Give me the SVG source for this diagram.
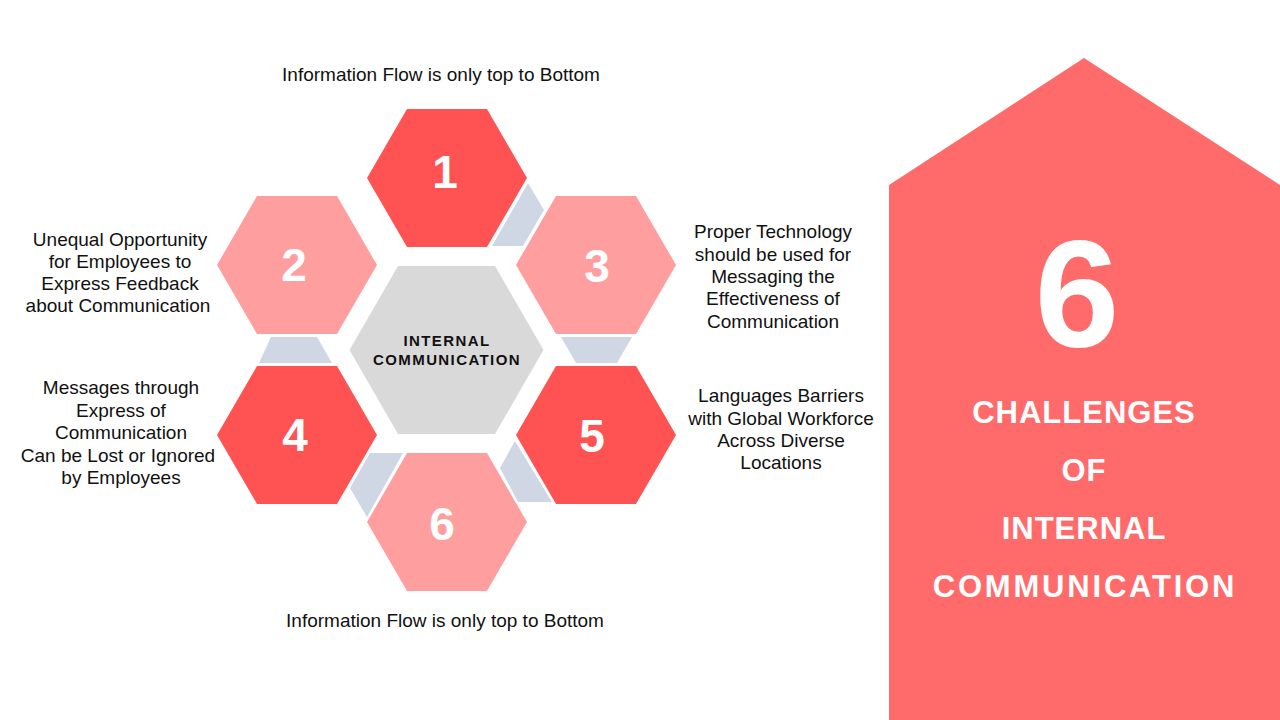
<svg xmlns="http://www.w3.org/2000/svg" width="1280" height="720" viewBox="0 0 1280 720">
<style>
.dark{fill:#FF5252}
.light{fill:#FF9E9E}
.core{fill:#D9D9D9}
.link{fill:#CFD6E4}
.num{font-family:"Liberation Sans",Arial,sans-serif;font-weight:bold;font-size:46px;fill:#FFFFFF;text-anchor:middle}
.lbl{font-family:"Liberation Sans",Arial,sans-serif;font-size:19px;fill:#111111;text-anchor:middle}
.core-t{font-family:"Liberation Sans",Arial,sans-serif;font-weight:bold;font-size:15px;fill:#111111;text-anchor:middle;letter-spacing:1.4px}
.title{font-family:"Liberation Sans",Arial,sans-serif;font-weight:bold;font-size:31px;fill:#FFFFFF;text-anchor:middle;letter-spacing:1px}
</style>
<rect width="1280" height="720" fill="#FFFFFF"/>
<g id="connectors">
<polygon class="link" points="528,183 544,210 523,246 492,246"/>
<polygon class="link" points="271,337 317,337 332,363 259,363"/>
<polygon class="link" points="561,337 632,337 617,363 576,363"/>
<polygon class="link" points="515,441 552,502 518,502 500,468"/>
<polygon class="link" points="370,453 403,453 367,517 350,488"/>
</g>
<g id="node-center">
<polygon class="core" points="349.5,350 398,266 495,266 543.5,350 495,434 398,434"/>
<text class="core-t" x="447" y="346">INTERNAL</text>
<text class="core-t" x="447" y="365">COMMUNICATION</text>
</g>
<g id="node-1">
<polygon class="dark" points="367,178 407,109 487,109 527,178 487,247 407,247"/>
<text class="num" x="445" y="188">1</text>
</g>
<g id="node-2">
<polygon class="light" points="217,265 257,196 337,196 377,265 337,334 257,334"/>
<text class="num" x="294" y="281">2</text>
</g>
<g id="node-3">
<polygon class="light" points="516,265 556,196 636,196 676,265 636,334 556,334"/>
<text class="num" x="597" y="282">3</text>
</g>
<g id="node-4">
<polygon class="dark" points="217,435 257,366 337,366 377,435 337,504 257,504"/>
<text class="num" x="295" y="451">4</text>
</g>
<g id="node-5">
<polygon class="dark" points="516,435 556,366 636,366 676,435 636,504 556,504"/>
<text class="num" x="592" y="452">5</text>
</g>
<g id="node-6">
<polygon class="light" points="367,522 407,453 487,453 527,522 487,591 407,591"/>
<text class="num" x="442" y="540">6</text>
</g>
<g id="labels">
<text class="lbl" x="441" y="81">Information Flow is only top to Bottom</text>
<text class="lbl" x="445" y="627">Information Flow is only top to Bottom</text>
<text class="lbl" x="120" y="246">Unequal Opportunity</text>
<text class="lbl" x="120" y="268">for Employees to</text>
<text class="lbl" x="120" y="290">Express Feedback</text>
<text class="lbl" x="118" y="312">about Communication</text>
<text class="lbl" x="121" y="394">Messages through</text>
<text class="lbl" x="121" y="417">Express of</text>
<text class="lbl" x="121" y="439">Communication</text>
<text class="lbl" x="118" y="462">Can be Lost or Ignored</text>
<text class="lbl" x="121" y="484">by Employees</text>
<text class="lbl" x="773" y="238">Proper Technology</text>
<text class="lbl" x="773" y="261">should be used for</text>
<text class="lbl" x="773" y="283">Messaging the</text>
<text class="lbl" x="773" y="305">Effectiveness of</text>
<text class="lbl" x="773" y="328">Communication</text>
<text class="lbl" x="781" y="402">Languages Barriers</text>
<text class="lbl" x="781" y="425">with Global Workforce</text>
<text class="lbl" x="781" y="447">Across Diverse</text>
<text class="lbl" x="781" y="469">Locations</text>
</g>
<g id="title-panel">
<polygon fill="#FF6B6B" points="889,185 1084,58 1280,185 1280,720 889,720"/>
<text x="1077" y="347" font-family="Liberation Sans,Arial,sans-serif" font-weight="bold" font-size="152" fill="#FFFFFF" text-anchor="middle">6</text>
<text class="title" x="1084" y="423">CHALLENGES</text>
<text class="title" x="1084" y="481">OF</text>
<text class="title" x="1084" y="539">INTERNAL</text>
<text class="title" x="1085" y="597" style="letter-spacing:2.8px">COMMUNICATION</text>
</g>
</svg>
